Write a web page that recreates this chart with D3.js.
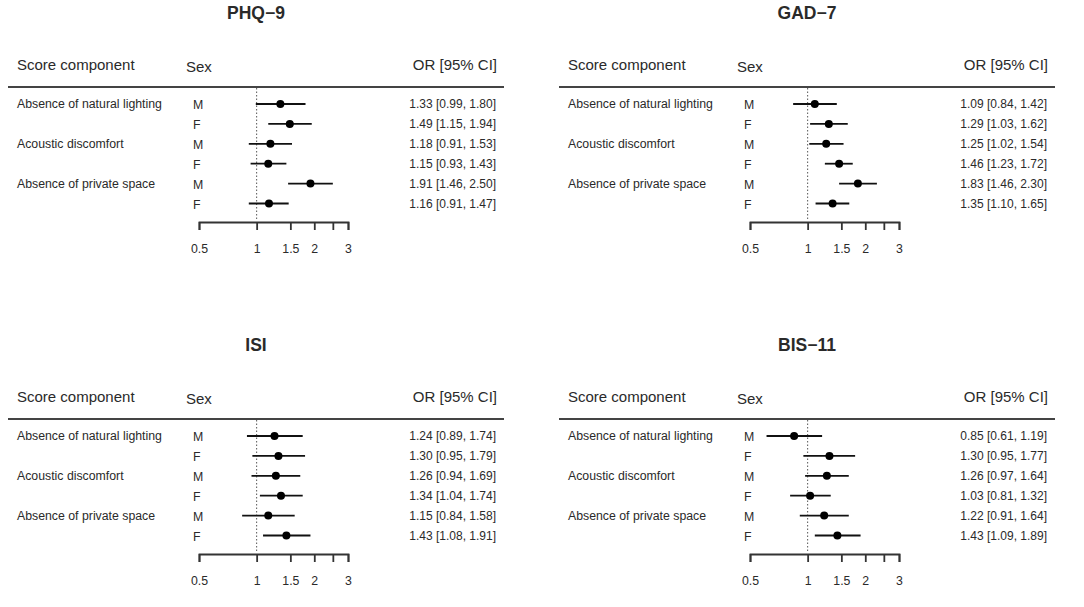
<!DOCTYPE html>
<html>
<head>
<meta charset="utf-8">
<script src="https://cdn.jsdelivr.net/npm/d3@7"></script>
<style>
  body { margin: 0; background: #fff; }
  text { font-family: "Liberation Sans", Arial, sans-serif; fill: #2a2a2a; }
</style>
</head>
<body>
<div id="graph"></div>
<script>
// forest plots, 4 panels, OR with 95% CI on a log axis

var width = 1084,
    height = 607;

var titles = ["PHQ\u22129", "GAD\u22127", "ISI", "BIS\u221211"];
var components = ["Absence of natural lighting", "Acoustic discomfort", "Absence of private space"];
var sexes = ["M", "F", "M", "F", "M", "F"];
var ticks = [0.5, 1, 1.5, 2, 2.5, 3];
var tickLabels = ["0.5", "1", "1.5", "2", "", "3"];

// per panel: odds ratio, lower, upper (rows in order M,F,M,F,M,F)
var phqOr = [1.33, 1.49, 1.18, 1.15, 1.91, 1.16],
    phqLo = [0.99, 1.15, 0.91, 0.93, 1.46, 0.91],
    phqHi = [1.80, 1.94, 1.53, 1.43, 2.50, 1.47];
var gadOr = [1.09, 1.29, 1.25, 1.46, 1.83, 1.35],
    gadLo = [0.84, 1.03, 1.02, 1.23, 1.46, 1.10],
    gadHi = [1.42, 1.62, 1.54, 1.72, 2.30, 1.65];
var isiOr = [1.24, 1.30, 1.26, 1.34, 1.15, 1.43],
    isiLo = [0.89, 0.95, 0.94, 1.04, 0.84, 1.08],
    isiHi = [1.74, 1.79, 1.69, 1.74, 1.58, 1.91];
var bisOr = [0.85, 1.30, 1.26, 1.03, 1.22, 1.43],
    bisLo = [0.61, 0.95, 0.97, 0.81, 0.91, 1.09],
    bisHi = [1.19, 1.77, 1.64, 1.32, 1.64, 1.89];

var panels = [
    {"title": titles[0], "or": phqOr, "lo": phqLo, "hi": phqHi, "dx": 0,   "dy": 0},
    {"title": titles[1], "or": gadOr, "lo": gadLo, "hi": gadHi, "dx": 551, "dy": 0},
    {"title": titles[2], "or": isiOr, "lo": isiLo, "hi": isiHi, "dx": 0,   "dy": 332},
    {"title": titles[3], "or": bisOr, "lo": bisLo, "hi": bisHi, "dx": 551, "dy": 332}
];

var svg = d3.select("#graph").append("svg")
    .attr("width", width)
    .attr("height", height);

// layout inside one panel
var x = d3.scaleLog().domain([0.5, 3]).range([199, 348]);
var y = d3.scaleLinear().domain([0, 5]).range([104, 203.5]);
var fmt = d3.format(".2f");

function drawPanel(p) {
    var g = svg.append("g")
        .attr("transform", "translate(" + p.dx + "," + p.dy + ")");

    g.append("text")
        .attr("x", 256).attr("y", 19)
        .attr("text-anchor", "middle")
        .style("font-size", "17.5px")
        .style("font-weight", "bold")
        .text(p.title);

    // header
    g.append("text").attr("x", 17).attr("y", 70).style("font-size", "15px").text("Score component");
    g.append("text").attr("x", 186).attr("y", 72).style("font-size", "15px").text("Sex");
    g.append("text").attr("x", 497).attr("y", 70).attr("text-anchor", "end")
        .style("font-size", "15px").text("OR [95% CI]");
    g.append("line")
        .attr("x1", 8).attr("x2", 504)
        .attr("y1", 87).attr("y2", 87)
        .attr("stroke", "#444").attr("stroke-width", 2.2);

    // reference line at OR = 1
    g.append("line")
        .attr("x1", x(1)).attr("x2", x(1))
        .attr("y1", 88).attr("y2", 221)
        .attr("stroke", "#555").attr("stroke-width", 1)
        .attr("stroke-dasharray", "1.5,2");

    g.selectAll(".comp")
        .data(components)
      .enter().append("text")
        .attr("class", "comp")
        .attr("x", 17)
        .attr("y", (d, i) => y(i * 2) + 4)
        .style("font-size", "12.3px")
        .text(d => d);

    var rows = p.or.map((d, i) => ({"or": d, "lo": p.lo[i], "hi": p.hi[i], "sex": sexes[i]}));

    g.selectAll(".sex")
        .data(rows)
      .enter().append("text")
        .attr("class", "sex")
        .attr("x", 193)
        .attr("y", (d, i) => y(i) + 5)
        .style("font-size", "12.3px")
        .text(d => d.sex);

    g.selectAll(".ci")
        .data(rows)
      .enter().append("line")
        .attr("class", "ci")
        .attr("x1", d => x(d.lo)).attr("x2", d => x(d.hi))
        .attr("y1", (d, i) => y(i)).attr("y2", (d, i) => y(i))
        .attr("stroke", "#111").attr("stroke-width", 1.8);

    g.selectAll(".pt")
        .data(rows)
      .enter().append("circle")
        .attr("class", "pt")
        .attr("cx", d => x(d.or))
        .attr("cy", (d, i) => y(i))
        .attr("r", 4)
        .attr("fill", "#000");

    g.selectAll(".est")
        .data(rows)
      .enter().append("text")
        .attr("class", "est")
        .attr("x", 496)
        .attr("y", (d, i) => y(i) + 4)
        .attr("text-anchor", "end")
        .style("font-size", "12px")
        .text(d => fmt(d.or) + " [" + fmt(d.lo) + ", " + fmt(d.hi) + "]");

    var axis = d3.axisBottom(x)
        .tickValues(ticks)
        .tickFormat((d, i) => tickLabels[i])
        .tickSize(8)
        .tickSizeOuter(8)
        .tickPadding(14);

    var ax = g.append("g")
        .attr("transform", "translate(0,222)")
        .call(axis);
    ax.select(".domain").attr("stroke", "#333").attr("stroke-width", 1.8);
    ax.selectAll(".tick line").attr("stroke", "#333").attr("stroke-width", 1.8);
    ax.selectAll(".tick text")
        .style("font-size", "12.3px")
        .style("font-family", "'Liberation Sans', Arial, sans-serif")
        .attr("fill", "#2a2a2a");
}

panels.forEach(drawPanel);
</script>
</body>
</html>
